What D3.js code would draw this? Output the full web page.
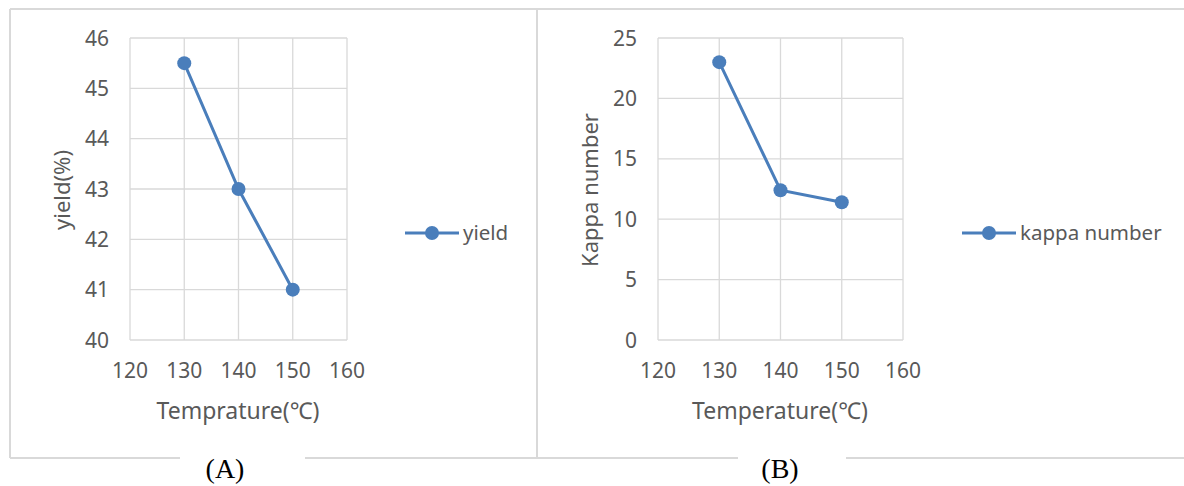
<!DOCTYPE html>
<html>
<head>
<meta charset="utf-8">
<script src="https://cdn.jsdelivr.net/npm/d3@7"></script>
<style>
body { margin: 0; background: #fff; }
text { font-family: "Noto Sans", sans-serif; fill: #595959; }
.grid line { stroke: #d9d9d9; stroke-width: 1.3; }
.caption { font-family: "Liberation Serif", serif; fill: #000; font-size: 28px; }
</style>
</head>
<body>
<script>
// Data
var temperature = [130, 140, 150];
var yield_values = [45.5, 43, 41];
var kappa_values = [23, 12.4, 11.4];
var x_ticks = [120, 130, 140, 150, 160];
var yield_ticks = [40, 41, 42, 43, 44, 45, 46];
var kappa_ticks = [0, 5, 10, 15, 20, 25];

var LINE_COLOR = "#4a7ebb";
var BORDER = "#d9d9d9";

var svg = d3.select("body").append("svg")
    .attr("width", 1184).attr("height", 486);

// Outer frames with gaps for the captions
var frame = svg.append("g").attr("fill", "none").attr("stroke", BORDER).attr("stroke-width", 2);
frame.append("line").attr("x1", 10).attr("y1", 9).attr("x2", 1184).attr("y2", 9);
frame.append("line").attr("x1", 10).attr("y1", 9).attr("x2", 10).attr("y2", 458);
frame.append("line").attr("x1", 537).attr("y1", 9).attr("x2", 537).attr("y2", 458);
frame.append("line").attr("x1", 10).attr("y1", 458).attr("x2", 180).attr("y2", 458);
frame.append("line").attr("x1", 305).attr("y1", 458).attr("x2", 738).attr("y2", 458);
frame.append("line").attr("x1", 846).attr("y1", 458).attr("x2", 1184).attr("y2", 458);

svg.append("text").attr("class", "caption").attr("x", 225).attr("y", 478)
    .attr("text-anchor", "middle").text("(A)");
svg.append("text").attr("class", "caption").attr("x", 780).attr("y", 478)
    .attr("text-anchor", "middle").text("(B)");

function drawPanel(opt) {
    var g = svg.append("g");
    var x = d3.scaleLinear().domain([120, 160]).range([opt.left, opt.right]);
    var y = d3.scaleLinear().domain(opt.ydomain).range([340, 38]);

    // gridlines
    var grid = g.append("g").attr("class", "grid");
    grid.selectAll("line.v").data(x_ticks).enter().append("line")
        .attr("x1", d => x(d)).attr("x2", d => x(d))
        .attr("y1", 38).attr("y2", 340);
    grid.selectAll("line.h").data(opt.yticks).enter().append("line")
        .attr("x1", opt.left).attr("x2", opt.right)
        .attr("y1", d => y(d)).attr("y2", d => y(d));

    // tick labels
    g.selectAll("text.xt").data(x_ticks).enter().append("text")
        .attr("x", d => x(d)).attr("y", 378)
        .attr("text-anchor", "middle").attr("font-size", 21)
        .text(d => d);
    g.selectAll("text.yt").data(opt.yticks).enter().append("text")
        .attr("x", opt.left - 21).attr("y", d => y(d) + 7.5)
        .attr("text-anchor", "end").attr("font-size", 21)
        .text(d => d);

    // axis titles
    g.append("text").attr("x", opt.xtitleX).attr("y", 419)
        .attr("text-anchor", "middle").attr("font-size", 23)
        .text(opt.xtitle);
    g.append("text")
        .attr("transform", "translate(" + opt.ytitleX + ",190) rotate(-90)")
        .attr("text-anchor", "middle").attr("font-size", 22)
        .text(opt.ytitle);

    // series
    var pts = temperature.map((t, i) => [t, opt.values[i]]);
    g.append("path").datum(pts)
        .attr("fill", "none").attr("stroke", LINE_COLOR).attr("stroke-width", 3)
        .attr("d", d3.line().x(d => x(d[0])).y(d => y(d[1])));
    g.selectAll("circle").data(pts).enter().append("circle")
        .attr("cx", d => x(d[0])).attr("cy", d => y(d[1]))
        .attr("r", 7).attr("fill", LINE_COLOR);

    // legend
    var lg = g.append("g").attr("transform", "translate(" + opt.legendX + ",233)");
    lg.append("line").attr("x1", 0).attr("x2", 54).attr("y1", 0).attr("y2", 0)
        .attr("stroke", LINE_COLOR).attr("stroke-width", 3);
    lg.append("circle").attr("cx", 27).attr("cy", 0).attr("r", 7).attr("fill", LINE_COLOR);
    lg.append("text").attr("x", 58).attr("y", 7).attr("font-size", 20.5).text(opt.legend);
}

drawPanel({
    left: 130, right: 347, ydomain: [40, 46], yticks: yield_ticks,
    values: yield_values, xtitle: "Temprature(℃)", xtitleX: 238,
    ytitle: "yield(%)", ytitleX: 70, legend: "yield", legendX: 405
});
drawPanel({
    left: 658, right: 903, ydomain: [0, 25], yticks: kappa_ticks,
    values: kappa_values, xtitle: "Temperature(℃)", xtitleX: 780,
    ytitle: "Kappa number", ytitleX: 598, legend: "kappa number", legendX: 962
});
</script>
</body>
</html>
